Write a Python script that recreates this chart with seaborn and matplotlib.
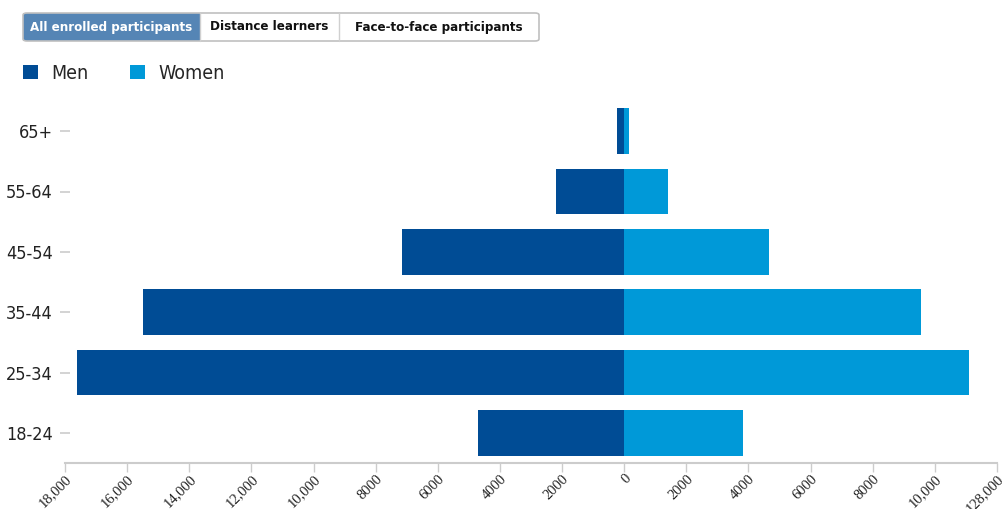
import numpy as np
import pandas as pd
import matplotlib.pyplot as plt
from matplotlib.patches import Rectangle, FancyBboxPatch
from matplotlib.lines import Line2D
import seaborn as sns

# Daten
age_groups = ['65+', '55-64', '45-54', '35-44', '25-34', '18-24']
men = [220, 2180, 7160, 15490, 17610, 4720]
women = [165, 1425, 4670, 9560, 11100, 3830]
x_ticks = [-18000, -16000, -14000, -12000, -10000, -8000, -6000, -4000, -2000,
           0, 2000, 4000, 6000, 8000, 10000, 12000]
x_tick_labels = ['18,000', '16,000', '14,000', '12,000', '10,000', '8000', '6000',
                 '4000', '2000', '0', '2000', '4000', '6000', '8000', '10,000', '128,000']
tabs = ['All enrolled participants', 'Distance learners', 'Face-to-face participants']
sexes = ['Men', 'Women']
colors = ['#004C95', '#0099D8']

df = pd.DataFrame({
    'Age': age_groups * 2,
    'Sex': ['Men'] * len(men) + ['Women'] * len(women),
    'Participants': [-v for v in men] + women,
})

sns.set_style('white')
plt.rcParams['font.family'] = ['DejaVu Sans']
plt.rcParams['font.stretch'] = 'condensed'

W, H = 1003, 509
fig = plt.figure(figsize=(W / 100, H / 100), dpi=100)
ax = fig.add_axes([65 / W, 46 / H, 932 / W, 362 / H])

sns.barplot(data=df, x='Participants', y='Age', hue='Sex', order=age_groups,
            hue_order=sexes, palette=colors, dodge=False, width=0.76,
            saturation=1, errorbar=None, orient='h', linewidth=0, ax=ax)

ax.set_xlim(-18000, 12000)
ax.set_ylim(5.5, -0.5)
ax.set_xlabel('')
ax.set_ylabel('')
sns.despine(ax=ax, left=True)
ax.spines['bottom'].set_color('#cccccc')
ax.spines['bottom'].set_linewidth(1.5)

ax.set_xticks(x_ticks)
ax.set_xticklabels(x_tick_labels, rotation=45, ha='right', rotation_mode='anchor',
                   family=['Liberation Serif', 'DejaVu Serif'], fontstretch='normal',
                   fontsize=10.5, color='#222222')
ax.tick_params(axis='x', bottom=True, direction='out', length=6.5, width=1,
               color='#cccccc', pad=0)
ax.tick_params(axis='y', left=True, direction='inout', length=6.5, width=1.2,
               color='#cccccc', pad=5.4, labelsize=13, labelcolor='#222222')

# Legende
handles, labels = ax.get_legend_handles_labels()
ax.legend(handles, labels, loc='upper left', bbox_to_anchor=(23 / W, 1 - 64 / H),
          bbox_transform=fig.transFigure, ncol=2, frameon=False, borderpad=0,
          borderaxespad=0, handlelength=0.77, handleheight=0.77, fontsize=14,
          handletextpad=0.67, columnspacing=2.15)

# Tab-Leiste oben
def fx(px):
    return px / W

def fy(py):
    return 1 - py / H

edges = [23, 200, 339, 539]
top, bottom = 13, 41
fig.add_artist(Rectangle((fx(edges[0]), fy(bottom)), fx(edges[1] - edges[0]),
                         (bottom - top) / H, transform=fig.transFigure,
                         facecolor='#5585B5', edgecolor='none'))
fig.add_artist(FancyBboxPatch((fx(edges[0]), fy(bottom)), fx(edges[3] - edges[0]),
                              (bottom - top) / H, boxstyle='round,pad=0,rounding_size=0.004',
                              transform=fig.transFigure, facecolor='none',
                              edgecolor='#c0c0c0', linewidth=1.2))
for e in edges[1:3]:
    fig.add_artist(Line2D([fx(e), fx(e)], [fy(top), fy(bottom)],
                          transform=fig.transFigure, color='#d0d0d0', linewidth=1))
for i, t in enumerate(tabs):
    cx = (edges[i] + edges[i + 1]) / 2
    fig.text(fx(cx), fy((top + bottom) / 2), t, ha='center', va='center',
             fontsize=9.5, fontweight='bold',
             color='white' if i == 0 else '#111111')

fig.savefig('out.png', dpi=100)
